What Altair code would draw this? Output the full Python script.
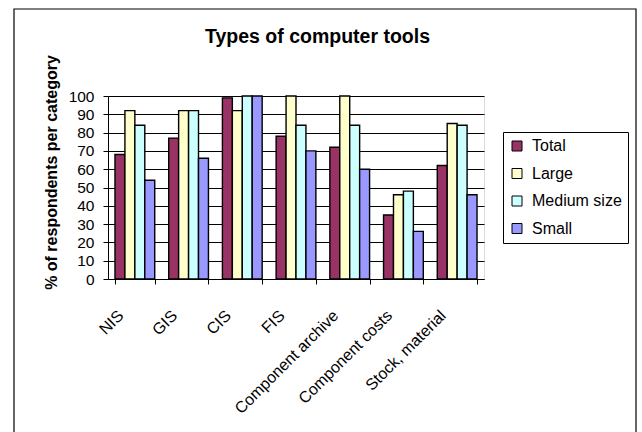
import altair as alt
import pandas as pd

categories = ["NIS", "GIS", "CIS", "FIS", "Component archive", "Component costs", "Stock, material"]
series = ["Total", "Large", "Medium size", "Small"]
total = [68, 77, 99, 78, 72, 35, 62]
large = [92, 92, 92, 100, 100, 46, 85]
medium = [84, 92, 100, 84, 84, 48, 84]
small = [54, 66, 100, 70, 60, 26, 46]
colors = ["#993366", "#FFFFCC", "#CCFFFF", "#9999FF"]
chart_title = "Types of computer tools"

rows = []
for s, vals in zip(series, [total, large, medium, small]):
    for c, v in zip(categories, vals):
        rows.append({"category": c, "series": s, "value": v})
df = pd.DataFrame(rows)
one = pd.DataFrame({"t": [chart_title]})

FONT = "Liberation Sans"

bars = alt.Chart(df).mark_bar(stroke="black", strokeWidth=1.4).encode(
    x=alt.X("category:N", sort=categories,
            scale=alt.Scale(paddingInner=0.26, paddingOuter=0.13),
            axis=alt.Axis(title=None, labelAngle=-45, labelFontSize=16, labelFont=FONT,
                          labelColor="black", domainColor="black", tickColor="black",
                          tickSize=5, tickBand="extent", labelPadding=23, labelOffset=-20,
                          grid=False)),
    xOffset=alt.XOffset("series:N", sort=series, scale=alt.Scale(paddingInner=0, paddingOuter=0)),
    y=alt.Y("value:Q", scale=alt.Scale(domain=[0, 100], nice=False),
            axis=alt.Axis(title="% of respondents per category", values=list(range(0, 101, 10)),
                          titleFontSize=16, titleFont=FONT, titleFontWeight="bold", titleColor="black",
                          titleX=-57, titleY=76, titleAngle=270, titleBaseline="middle", titleAlign="center",
                          labelFontSize=15.5, labelFont=FONT, labelColor="black", labelPadding=9,
                          tickSize=5, tickColor="black", domainColor="black",
                          gridColor="black", gridWidth=1, gridOpacity=1)),
    color=alt.Color("series:N", sort=series, scale=alt.Scale(domain=series, range=colors),
                    legend=alt.Legend(title=None, orient="none", legendX=395, legendY=36,
                                      symbolType="square", symbolSize=100, symbolStrokeColor="black",
                                      symbolStrokeWidth=1, symbolOpacity=1,
                                      labelFontSize=16, labelFont=FONT, labelColor="black",
                                      labelOffset=7, rowPadding=11.5, padding=6,
                                      strokeColor="black", fillColor="white")),
)

border = alt.Chart(one).mark_rect(fill=None, stroke="black", strokeWidth=1.2, clip=False).encode(
    x=alt.value(-94), x2=alt.value(528), y=alt.value(-87), y2=alt.value(345)
)

title = alt.Chart(one).mark_text(font=FONT, fontSize=19.5, fontWeight="bold", color="black",
                                 align="left", baseline="alphabetic", clip=False).encode(
    x=alt.value(97), y=alt.value(-53), text="t:N"
)

chart = alt.layer(border, bars, title).properties(
    width=376, height=183,
    autosize=alt.AutoSizeParams(type="none"),
    padding={"left": 108, "top": 96, "right": 158, "bottom": 153},
).configure_view(stroke="#808080").configure(background="white")

chart.save("out.html", embed_options={"renderer": "svg", "actions": False})
